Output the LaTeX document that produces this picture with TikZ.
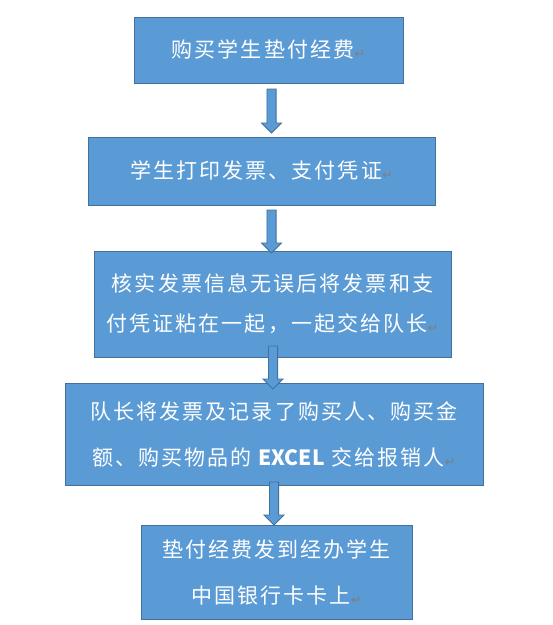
\documentclass[tikz,border=0pt]{standalone}
\usepackage{fontspec}
\usetikzlibrary{calc}
\newfontfamily\cjk[LetterSpace=10]{Noto Sans CJK SC}
\newfontfamily\cjkplain{Noto Sans CJK SC}
\newfontfamily\dejavu{DejaVu Sans}
\definecolor{boxfill}{HTML}{5B9BD5}
\definecolor{boxline}{HTML}{41719C}
\definecolor{retgray}{HTML}{7F7F7F}
\newcommand\retmark{{\color{retgray}\dejavu\fontsize{13}{13}\selectfont\raisebox{-1pt}{↵}}}
\newcommand\blockarr[2]{\draw[blockarrow] ($(#1)+(-4.6,0)$) -- ($(#1)+(4.6,0)$) -- ($(#2)+(4.6,-10)$) -- ($(#2)+(10,-10)$) -- (#2) -- ($(#2)+(-10,-10)$) -- ($(#2)+(-4.6,-10)$) -- cycle;}
\begin{document}
\begin{tikzpicture}[x=1pt,y=-1pt,
  flowbox/.style={draw=boxline, fill=boxfill, line width=1pt, text=white, align=center, inner sep=0pt,
    font=\cjk\fontsize{21}{40}\selectfont},
  blockarrow/.style={draw=boxline, fill=boxfill, line width=0.8pt, line join=miter}]
\useasboundingbox[fill=white] (0,0) rectangle (553,625);
\node[flowbox, minimum width=269, minimum height=66] (b1) at (268.5,50) {\raisebox{2pt}{购买学生垫付经费\retmark}};
\node[flowbox, minimum width=347, minimum height=68] (b2) at (261.5,171) {\raisebox{2pt}{学生打印发票、支付凭证\retmark}};
\node[flowbox, minimum width=357, minimum height=106] (b3) at (272.5,304) {核实发票信息无误后将发票和支\\付凭证粘在一起，一起交给队长\retmark};
\node[flowbox, minimum width=418, minimum height=102, font=\cjk\fontsize{21}{46}\selectfont] (b4) at (274,434) {队长将发票及记录了购买人、购买金\\额、购买物品的 {\cjkplain\bfseries EXCEL} 交给报销人\retmark};
\node[flowbox, minimum width=271, minimum height=94, font=\cjk\fontsize{21}{46}\selectfont] (b5) at (276.5,572) {垫付经费发到经办学生\\中国银行卡卡上\retmark};
\coordinate (a1top) at (271.5,89);  \coordinate (a1tip) at (271.5,133);
\coordinate (a2top) at (271.5,210); \coordinate (a2tip) at (271.5,253);
\coordinate (a3top) at (273,346);   \coordinate (a3tip) at (273,389);
\coordinate (a4top) at (274,482);   \coordinate (a4tip) at (274,525);
\blockarr{a1top}{a1tip}
\blockarr{a2top}{a2tip}
\blockarr{a3top}{a3tip}
\blockarr{a4top}{a4tip}
\end{tikzpicture}
\end{document}
